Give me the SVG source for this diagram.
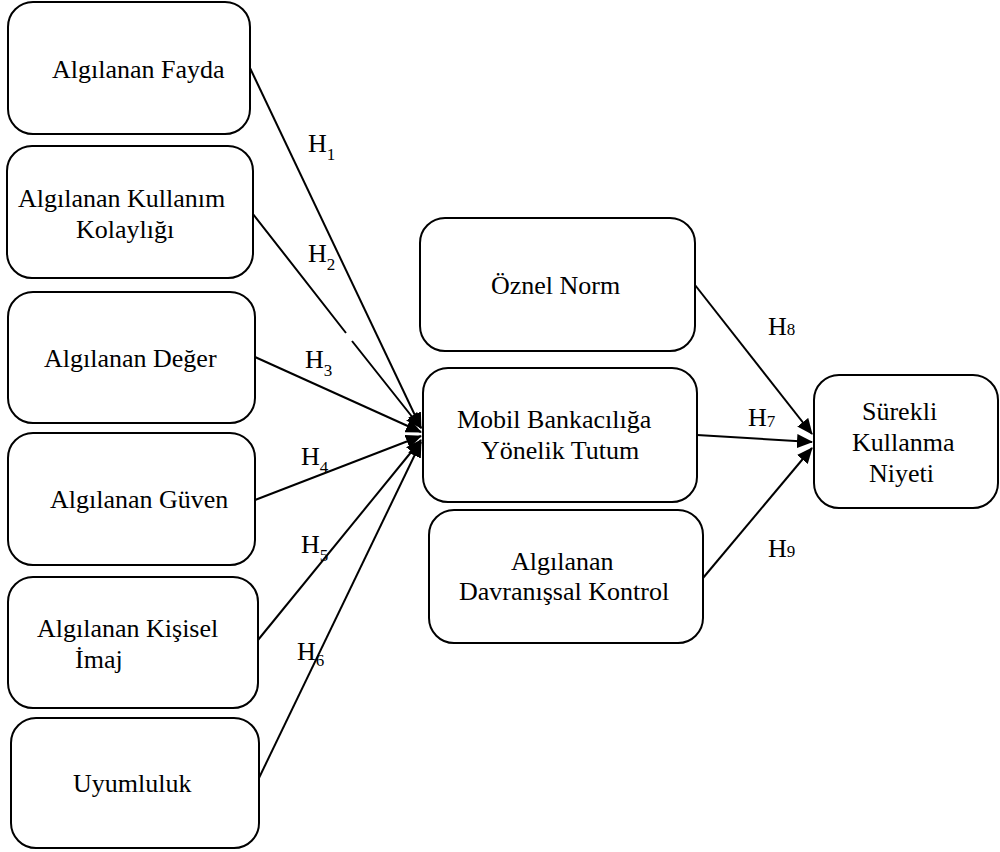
<svg xmlns="http://www.w3.org/2000/svg" width="1000" height="852" viewBox="0 0 1000 852" font-family="Liberation Serif, serif">
<style>
.box{fill:#fff;stroke:#000;stroke-width:2}
.t{font-size:26px;fill:#000}
.s{font-size:17px}
.ln{stroke:#000;stroke-width:2;fill:none;marker-end:url(#arr)}
</style>
<defs>
<marker id="arr" markerUnits="userSpaceOnUse" markerWidth="16" markerHeight="14" viewBox="0 0 16 14" refX="15" refY="7" orient="auto">
<path d="M0,0 L16,7 L0,14 z" fill="#000"/>
</marker>
</defs>
<rect width="1000" height="852" fill="#fff"/>
<g id="connectors">
<path class="ln" d="M250,68 L421,428"/>
<path class="ln" d="M253,214 L346,333 M352,341 L421,428"/>
<path class="ln" d="M255,357 L421,432"/>
<path class="ln" d="M255,500 L421,436"/>
<path class="ln" d="M258,640 L421,440"/>
<path class="ln" d="M258,780 L421,442"/>
<path class="ln" d="M695,285 L812,434"/>
<path class="ln" d="M697,435 L812,442"/>
<path class="ln" d="M703,578 L812,448"/>
</g>
<g id="labels">
<text class="t" x="308" y="152">H<tspan class="s" dy="8">1</tspan></text>
<text class="t" x="308" y="262">H<tspan class="s" dy="8">2</tspan></text>
<text class="t" x="305" y="368">H<tspan class="s" dy="8">3</tspan></text>
<text class="t" x="301" y="465">H<tspan class="s" dy="8">4</tspan></text>
<text class="t" x="301" y="553">H<tspan class="s" dy="8">5</tspan></text>
<text class="t" x="297" y="660">H<tspan class="s" dy="6">6</tspan></text>
<text class="t" x="768" y="335">H<tspan class="s">8</tspan></text>
<text class="t" x="748" y="426">H<tspan class="s" dy="1">7</tspan></text>
<text class="t" x="768" y="557">H<tspan class="s">9</tspan></text>
</g>
<g id="n1"><rect class="box" x="8" y="2" width="242" height="132" rx="25"/><text class="t" x="52" y="78">Algılanan Fayda</text></g>
<g id="n2"><rect class="box" x="7" y="146" width="246" height="132" rx="25"/><text class="t" x="18" y="207">Algılanan Kullanım</text><text class="t" x="76" y="238">Kolaylığı</text></g>
<g id="n3"><rect class="box" x="8" y="292" width="247" height="131" rx="25"/><text class="t" x="44" y="367">Algılanan Değer</text></g>
<g id="n4"><rect class="box" x="8" y="433" width="247" height="132" rx="25"/><text class="t" x="50" y="508">Algılanan Güven</text></g>
<g id="n5"><rect class="box" x="8" y="577" width="250" height="131" rx="25"/><text class="t" x="37" y="637">Algılanan Kişisel</text><text class="t" x="75" y="668">İmaj</text></g>
<g id="n6"><rect class="box" x="11" y="718" width="248" height="130" rx="25"/><text class="t" x="73" y="792">Uyumluluk</text></g>
<g id="n7"><rect class="box" x="420" y="218" width="275" height="133" rx="25"/><text class="t" x="491" y="294">Öznel Norm</text></g>
<g id="n8"><rect class="box" x="423" y="368" width="274" height="134" rx="25"/><text class="t" x="457" y="428">Mobil Bankacılığa</text><text class="t" x="481" y="459">Yönelik Tutum</text></g>
<g id="n9"><rect class="box" x="429" y="510" width="274" height="133" rx="25"/><text class="t" x="511" y="570">Algılanan</text><text class="t" x="459" y="600">Davranışsal Kontrol</text></g>
<g id="n10"><rect class="box" x="814" y="375" width="184" height="133" rx="25"/><text class="t" x="862" y="420">Sürekli</text><text class="t" x="852" y="451">Kullanma</text><text class="t" x="869" y="482">Niyeti</text></g>
</svg>
